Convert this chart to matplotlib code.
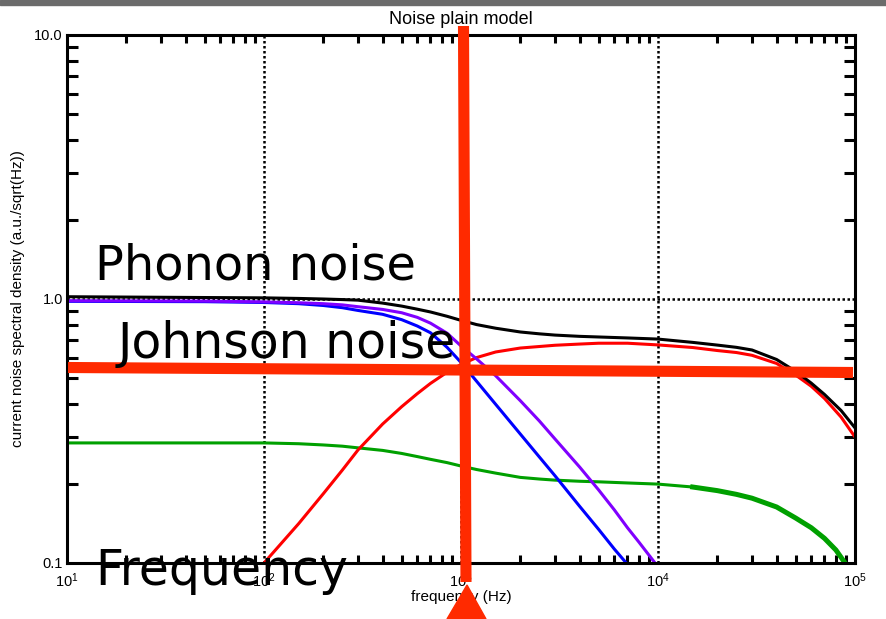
import matplotlib
matplotlib.use('Agg')
import matplotlib.pyplot as plt
from matplotlib.lines import Line2D
from matplotlib.patches import Polygon, Rectangle
from matplotlib.ticker import LogLocator, NullFormatter

# data
f_total = [10, 100, 150, 200, 250, 300, 400, 500, 600, 700, 850, 1000, 1200,
           1500, 2000, 2500, 3000, 4000, 5000, 7000, 10000, 15000, 20000,
           25000, 30000, 40000, 50000, 60000, 70000, 85000, 100000]
total = [1.02, 1.01, 1.005, 1.0, 0.995, 0.99, 0.965, 0.94, 0.915, 0.893,
         0.86, 0.83, 0.80, 0.775, 0.75, 0.738, 0.73, 0.722, 0.718, 0.712,
         0.705, 0.685, 0.669, 0.656, 0.641, 0.59, 0.532, 0.48, 0.435, 0.378,
         0.325]

f_phonon = [10, 50, 100, 150, 200, 250, 300, 400, 500, 600, 700, 850, 1000,
            1200, 1500, 2000, 2500, 3000, 4000, 5000, 6000, 6900]
phonon = [0.98, 0.977, 0.97, 0.96, 0.945, 0.927, 0.905, 0.875, 0.835, 0.79,
          0.745, 0.656, 0.575, 0.488, 0.399, 0.308, 0.252, 0.214, 0.164,
          0.134, 0.113, 0.1]

f_phonon2 = [10, 50, 100, 150, 200, 250, 300, 400, 500, 600, 700, 850, 1000,
             1200, 1500, 2000, 2500, 3000, 4000, 5000, 6000, 7000, 8000, 9660]
phonon2 = [0.985, 0.982, 0.975, 0.968, 0.96, 0.95, 0.935, 0.913, 0.887,
           0.852, 0.81, 0.742, 0.664, 0.593, 0.512, 0.412, 0.345, 0.295,
           0.231, 0.189, 0.159, 0.136, 0.12, 0.1]

f_johnson = [100, 150, 200, 250, 300, 400, 500, 600, 700, 850, 1000, 1200,
             1500, 2000, 3000, 4000, 5000, 7000, 10000, 15000, 20000, 25000,
             30000, 40000, 50000, 60000, 70000, 85000, 100000]
johnson = [0.1, 0.141, 0.183, 0.225, 0.268, 0.336, 0.391, 0.438, 0.479,
           0.528, 0.565, 0.60, 0.63, 0.652, 0.668, 0.675, 0.68, 0.68, 0.67,
           0.655, 0.638, 0.627, 0.612, 0.57, 0.515, 0.467, 0.42, 0.357, 0.30]

f_amp = [10, 100, 150, 200, 250, 300, 400, 500, 600, 700, 850, 1000, 1200,
         1500, 2000, 2500, 3000, 4000, 5000, 7000, 10000, 15000, 20000,
         25000, 30000, 40000, 50000, 60000, 70000, 80000, 89000]
amp = [0.285, 0.285, 0.283, 0.280, 0.277, 0.273, 0.267, 0.26, 0.253, 0.247,
       0.24, 0.233, 0.226, 0.219, 0.211, 0.208, 0.206, 0.204, 0.203, 0.201,
       0.199, 0.194, 0.188, 0.182, 0.176, 0.163, 0.148, 0.136, 0.124, 0.112,
       0.1]

xticks = [10, 100, 1000, 10000, 100000]
xtick_labels = ['$10^{1}$', '$10^{2}$', '$10^{3}$', '$10^{4}$', '$10^{5}$']
yticks = [0.1, 1.0, 10.0]
ytick_labels = ['0.1', '1.0', '10.0']

plt.rcParams['font.family'] = ['Liberation Sans', 'DejaVu Sans']
plt.rcParams['mathtext.fontset'] = 'custom'
plt.rcParams['mathtext.rm'] = 'Liberation Sans'
plt.rcParams['mathtext.it'] = 'Liberation Sans:italic'

W, H = 886, 619
RED = '#ff2a00'

fig = plt.figure(figsize=(W / 100, H / 100), dpi=100)
ax = fig.add_axes([67 / W, 1 - 563 / H, 788 / W, 528 / H])

ax.plot(f_amp, amp, color='#00a000', lw=2.2)
ax.plot(f_amp[21:], amp[21:], color='#00a000', lw=3.6)  # thicker tail as in the original
ax.plot(f_johnson, johnson, color='#ff0000', lw=2.2)
ax.plot(f_phonon, phonon, color='#0000ff', lw=2.2)
ax.plot(f_phonon2, phonon2, color='#8000ff', lw=2.2)
ax.plot(f_total, total, color='black', lw=2.2)

ax.set_xscale('log')
ax.set_yscale('log')
ax.set_xlim(10, 1e5)
ax.set_ylim(0.1, 10)
ax.set_xticks(xticks, labels=xtick_labels)
ax.set_yticks(yticks, labels=ytick_labels)
for a in (ax.xaxis, ax.yaxis):
    a.set_minor_locator(LogLocator(base=10, subs=range(2, 10)))
    a.set_minor_formatter(NullFormatter())
ax.tick_params(which='both', direction='in', top=True, right=True, width=2.2)
ax.tick_params(which='major', length=0, labelsize=10.5)
ax.tick_params(axis='x', which='major', pad=6)
ax.tick_params(axis='y', which='major', pad=3)
ax.tick_params(axis='x', which='minor', length=6)
ax.tick_params(axis='y', which='minor', length=8)
ax.grid(which='major', color='black', linestyle=(0, (1, 1)), linewidth=1.8)
for s in ax.spines.values():
    s.set_linewidth(2.2)

ax.set_title('Noise plain model', fontsize=13, pad=8)
ax.set_xlabel('frequency (Hz)', fontsize=11, va='center')
ax.xaxis.set_label_coords(0.5, -0.064)
ax.set_ylabel('current noise spectral density (a.u./sqrt(Hz))', fontsize=11, va='center')
ax.yaxis.set_label_coords(-0.062, 0.5)

# big annotations drawn on top
fig.text(95 / W, 1 - 279 / H, 'Phonon noise', fontsize=34.5, family='DejaVu Sans', va='baseline')
fig.text(118 / W, 1 - 358 / H, 'Johnson noise', fontsize=35.2, family='DejaVu Sans', va='baseline')
fig.text(95 / W, 1 - 585 / H, 'Frequency', fontsize=35.2, family='DejaVu Sans', va='baseline')

fig.add_artist(Line2D([463.5 / W, 466 / W], [1 - 26 / H, 1 - 582 / H], color=RED,
                      lw=8, solid_capstyle='butt'))
fig.add_artist(Line2D([68 / W, 853 / W], [1 - 367.5 / H, 1 - 372.5 / H], color=RED,
                      lw=8, solid_capstyle='butt'))
fig.add_artist(Polygon([[467 / W, 1 - 585 / H], [447 / W, 0], [486 / W, 0]],
                       closed=True, transform=fig.transFigure, color=RED))
fig.add_artist(Rectangle((0, 1 - 5 / H), 1, 5 / H, transform=fig.transFigure,
                         color='#6b6b6b'))

fig.savefig('out.png', dpi=100)
